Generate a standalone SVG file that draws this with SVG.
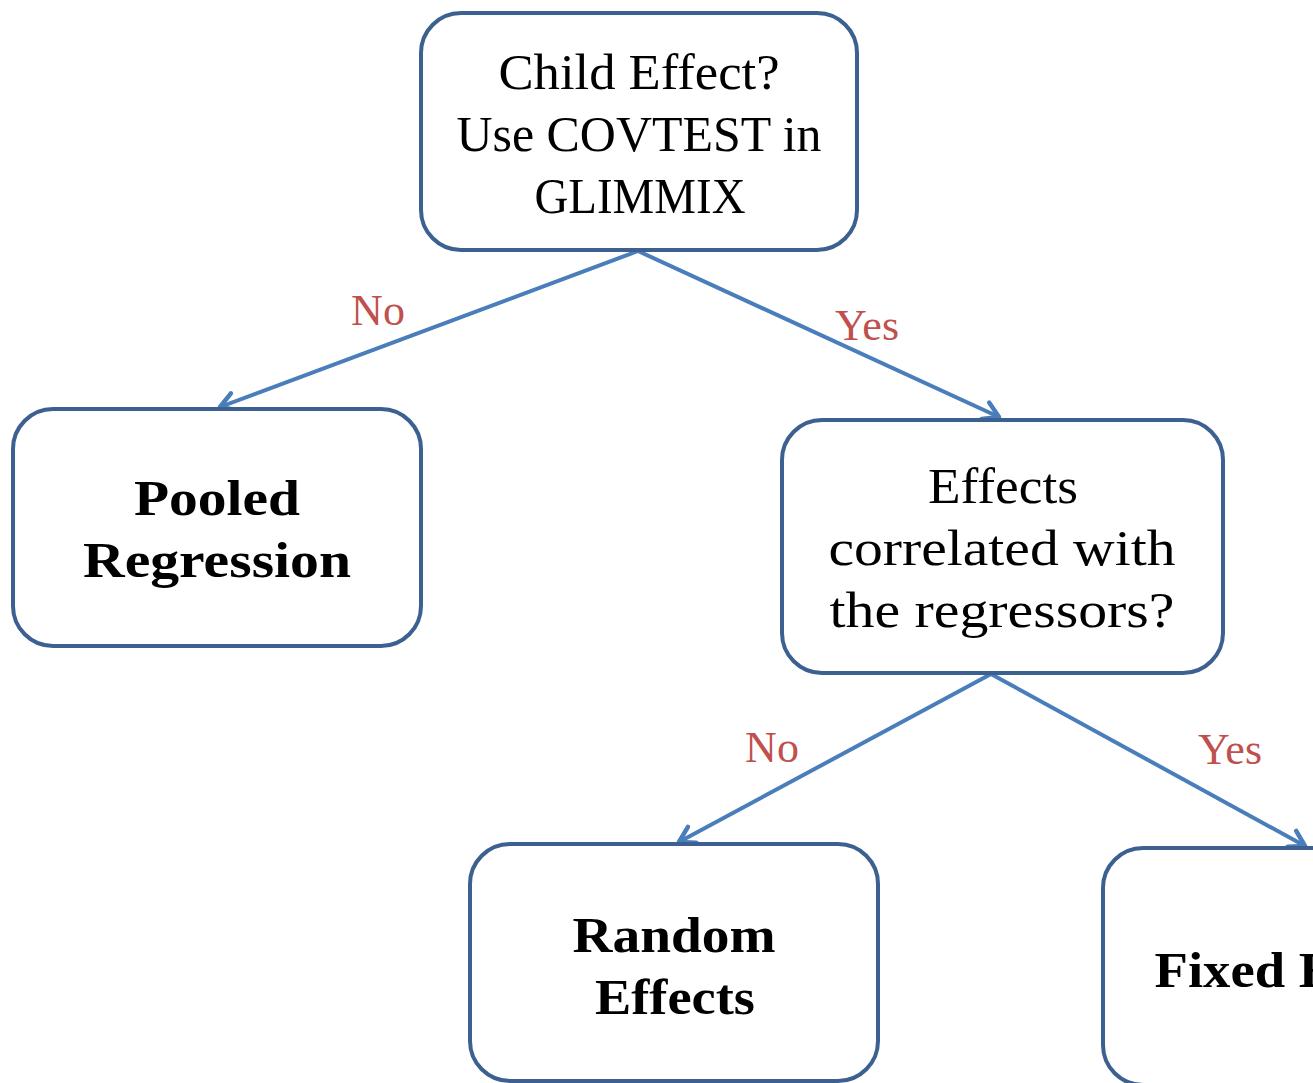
<svg xmlns="http://www.w3.org/2000/svg" width="1313" height="1083" viewBox="0 0 1313 1083">
<style>
.box{fill:#fff;stroke:#3c6090;stroke-width:4}
.t{font-family:"Liberation Serif","Times New Roman",serif;font-size:50px;fill:#000;text-anchor:middle}
.b{font-weight:bold}
.lbl{font-family:"Liberation Serif","Times New Roman",serif;font-size:44px;fill:#c0504d;text-anchor:middle}
.edge{stroke:#4a7ebb;stroke-width:4;fill:none}
</style>
<defs>
<marker id="arr" markerUnits="userSpaceOnUse" markerWidth="30" markerHeight="30" viewBox="-20 -15 25 30" refX="0" refY="0" orient="auto">
<path d="M-15,-9 L0,0 L-15,9" fill="none" stroke="#4a7ebb" stroke-width="4.5" stroke-linecap="round" stroke-linejoin="round"/>
</marker>
</defs>
<g id="connectors">
<line class="edge" x1="638" y1="251" x2="220" y2="407" marker-end="url(#arr)"/>
<line class="edge" x1="638" y1="251" x2="999" y2="417" marker-end="url(#arr)"/>
<line class="edge" x1="991" y1="674" x2="679" y2="842" marker-end="url(#arr)"/>
<line class="edge" x1="991" y1="674" x2="1305" y2="846" marker-end="url(#arr)"/>
<text class="lbl" x="378" y="325">No</text>
<text class="lbl" x="867" y="340">Yes</text>
<text class="lbl" x="772" y="762">No</text>
<text class="lbl" x="1230" y="764">Yes</text>
</g>
<g id="node-child">
<rect class="box" x="421" y="13" width="436" height="237" rx="40"/>
<text class="t" x="639" y="89" textLength="281" lengthAdjust="spacingAndGlyphs">Child Effect?</text>
<text class="t" x="639" y="151" textLength="365" lengthAdjust="spacingAndGlyphs">Use COVTEST in</text>
<text class="t" x="640" y="213" textLength="211" lengthAdjust="spacingAndGlyphs">GLIMMIX</text>
</g>
<g id="node-pooled">
<rect class="box" x="13" y="409" width="408" height="237" rx="40"/>
<text class="t b" x="217" y="515" textLength="166" lengthAdjust="spacingAndGlyphs">Pooled</text>
<text class="t b" x="217" y="577" textLength="268" lengthAdjust="spacingAndGlyphs">Regression</text>
</g>
<g id="node-effects">
<rect class="box" x="782" y="420" width="441" height="253" rx="40"/>
<text class="t" x="1003" y="503" textLength="150" lengthAdjust="spacingAndGlyphs">Effects</text>
<text class="t" x="1002" y="565" textLength="347" lengthAdjust="spacingAndGlyphs">correlated with</text>
<text class="t" x="1002" y="627" textLength="345" lengthAdjust="spacingAndGlyphs">the regressors?</text>
</g>
<g id="node-random">
<rect class="box" x="470" y="844" width="408" height="237" rx="40"/>
<text class="t b" x="674" y="952" textLength="203" lengthAdjust="spacingAndGlyphs">Random</text>
<text class="t b" x="675" y="1014" textLength="160" lengthAdjust="spacingAndGlyphs">Effects</text>
</g>
<g id="node-fixed">
<rect class="box" x="1103" y="848" width="408" height="237" rx="40"/>
<text class="t b" x="1307" y="987" textLength="305" lengthAdjust="spacingAndGlyphs">Fixed Effects</text>
</g>
</svg>
